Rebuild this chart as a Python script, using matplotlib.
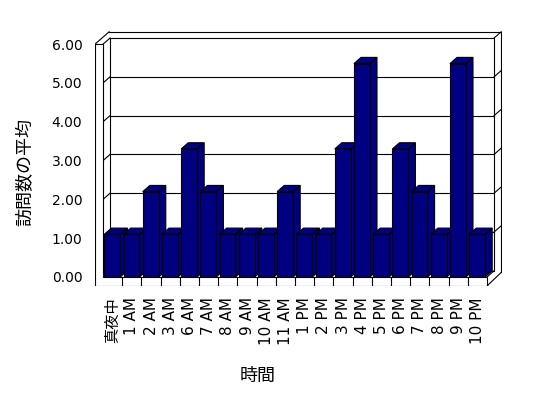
import numpy as np
import matplotlib
matplotlib.use('Agg')
import matplotlib.pyplot as plt
from matplotlib.patches import Polygon

plt.rcParams['font.family'] = ['DejaVu Sans', 'Noto Sans CJK JP']

# データ
hours = ['真夜中', '1 AM', '2 AM', '3 AM', '6 AM', '7 AM', '8 AM', '9 AM', '10 AM', '11 AM',
         '1 PM', '2 PM', '3 PM', '4 PM', '5 PM', '6 PM', '7 PM', '8 PM', '9 PM', '10 PM']
avg_visits = [1.1, 1.1, 2.2, 1.1, 3.3, 2.2, 1.1, 1.1, 1.1, 2.2,
              1.1, 1.1, 3.3, 5.5, 1.1, 3.3, 2.2, 1.1, 5.5, 1.1]
y_ticks = [0, 1, 2, 3, 4, 5, 6]
y_ticklabels = ['%.2f' % v for v in y_ticks]

navy = '#000080'
lw = 0.8
n = len(hours)
dx, dy = 0.37, 0.16       # 奥行きのずれ
wall = 0.42               # 左の壁の厚さ
floor = 0.232             # 床の厚さ
ymax = 6.0

W, H = 548, 398
px_x, px_y = 19.2, 38.8   # 1単位あたりのピクセル
x0_px, y0_px = 103, 277
xlo, xhi = -wall, n + 2 * dx + 0.05
ylo, yhi = -floor, ymax + 2 * dy + 0.05

fig = plt.figure(figsize=(W / 100, H / 100), dpi=100)
left = (x0_px + xlo * px_x) / W
bottom = 1 - (y0_px - ylo * px_y) / H
ax = fig.add_axes([left, bottom, (xhi - xlo) * px_x / W, (yhi - ylo) * px_y / H])
ax.set_xlim(xlo, xhi)
ax.set_ylim(ylo, yhi)
for s in ax.spines.values():
    s.set_visible(False)

def line(xs, ys, z=1):
    ax.plot(xs, ys, color='k', lw=lw, zorder=z, solid_capstyle='projecting')

# 奥の壁
ax.add_patch(Polygon([(dx, dy), (n + dx, dy), (n + dx, ymax + dy), (dx, ymax + dy)],
                     closed=True, fc='white', ec='k', lw=lw, zorder=0.5))
for v in y_ticks[1:-1]:
    line([dx, n + dx], [v + dy, v + dy])
    line([0, dx], [v, v + dy])
    line([n + dx, n + 2 * dx], [v + dy, v + 2 * dy])
    line([-wall, 0], [v, v], z=3)
# 壁の外枠
line([-wall + 2 * dx, n + 2 * dx], [ymax + 2 * dy, ymax + 2 * dy])
line([n + 2 * dx, n + 2 * dx], [ymax + 2 * dy, 2 * dy - floor + 0.03])
line([n + dx, n + 2 * dx], [ymax + dy, ymax + 2 * dy])
line([-wall, -wall + 2 * dx], [ymax, ymax + 2 * dy])
line([0, dx], [ymax, ymax + dy])
# 床の右端
line([n, n + 2 * dx], [-floor, 2 * dy - floor + 0.03])
line([n, n + dx], [0, dy])

# 棒（左から順に重ねる）
for i, v in enumerate(avg_visits):
    xl = i + 0.07
    xr = xl + 0.83
    z = 2 + i * 0.01
    side = [(xr, 0), (xr + dx, dy), (xr + dx, v + dy), (xr, v)]
    top = [(xl, v), (xr, v), (xr + dx, v + dy), (xl + dx, v + dy)]
    for poly in (side, top):
        ax.add_patch(Polygon(poly, closed=True, fc=navy, ec='k', lw=lw, zorder=z))
    ax.bar(xl, v, width=0.83, align='edge', color=navy, edgecolor='k', lw=lw, zorder=z + 0.005)

# 手前の壁と床
ax.add_patch(Polygon([(-wall, -floor), (n, -floor), (n, 0), (0, 0), (0, ymax), (-wall, ymax)],
                     closed=True, fc='white', ec='k', lw=lw, zorder=3))
for i in range(1, n):
    line([i, i], [-floor, 0], z=3)

ax.set_yticks(y_ticks, y_ticklabels, fontsize=10)
ax.set_xticks(np.arange(n) + 0.5, hours, rotation=90, fontsize=11, va='top')
ax.tick_params(axis='y', length=0, pad=9)
ax.tick_params(axis='x', length=0, pad=8)

fig.text(25 / W, 1 - 172 / H, '訪問数の平均', rotation=90, ha='center', va='center',
         fontsize=13, family=['Noto Sans CJK JP'])
fig.text(258 / W, 1 - 376 / H, '時間', ha='center', va='center',
         fontsize=13, family=['Noto Sans CJK JP'])

fig.savefig('out.png', dpi=100, facecolor='white')
